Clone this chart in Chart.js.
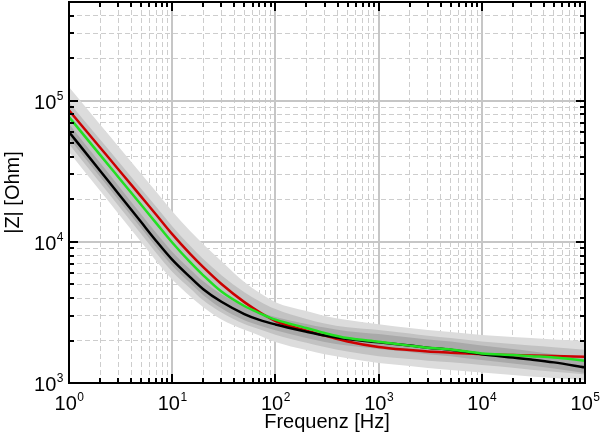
<!DOCTYPE html>
<html>
<head>
<meta charset="utf-8">
<script src="https://cdn.jsdelivr.net/npm/chart.js@4.4.0/dist/chart.umd.min.js"></script>
<style>
  html, body { margin: 0; padding: 0; background: #fff; }
  canvas { display: block; }
</style>
</head>
<body>
<canvas id="chart" width="600" height="441"></canvas>
<script>
// frequency grid (Hz) the values were read at
const freq = [1, 2, 3, 5, 7, 10, 15, 20, 30, 50, 70, 100, 200, 300, 500, 1000, 2000, 3000, 5000, 10000, 20000, 30000, 50000, 100000]

// |Z| curves (Ohm)
const zBlack = [6.0e4, 3.19e4, 2.2e4, 1.38e4, 1.015e4, 7.48e3, 5.6e3, 4.62e3, 3.76e3, 3.08e3, 2.8e3, 2.6e3, 2.31e3, 2.17e3, 2.05e3, 1.94e3, 1.84e3, 1.78e3, 1.72e3, 1.6e3, 1.515e3, 1.467e3, 1.4e3, 1.29e3]
const zGreen = [7.67e4, 4.13e4, 2.88e4, 1.83e4, 1.357e4, 9.9e3, 7.15e3, 5.79e3, 4.44e3, 3.51e3, 3.13e3, 2.81e3, 2.45e3, 2.26e3, 2.08e3, 1.96e3, 1.84e3, 1.78e3, 1.73e3, 1.62e3, 1.58e3, 1.55e3, 1.515e3, 1.44e3]
const zRed = [8.55e4, 4.66e4, 3.27e4, 2.09e4, 1.556e4, 1.134e4, 8.18e3, 6.62e3, 5.03e3, 3.74e3, 3.18e3, 2.75e3, 2.35e3, 2.17e3, 1.97e3, 1.8e3, 1.71e3, 1.67e3, 1.64e3, 1.6e3, 1.58e3, 1.565e3, 1.553e3, 1.535e3]

// spread bands (outer, middle, inner)
const outerHi = [1.25e5, 6.77e4, 4.76e4, 3.04e4, 2.26e4, 1.65e4, 1.19e4, 9.63e3, 7.3e3, 5.2e3, 4.35e3, 3.74e3, 3.23e3, 2.98e3, 2.79e3, 2.61e3, 2.45e3, 2.37e3, 2.3e3, 2.19e3, 2.12e3, 2.08e3, 2.03e3, 1.98e3]
const outerLo = [4.33e4, 2.3e4, 1.59e4, 9.97e3, 7.32e3, 5.4e3, 4.1e3, 3.44e3, 2.82e3, 2.38e3, 2.17e3, 1.95e3, 1.71e3, 1.6e3, 1.5e3, 1.385e3, 1.32e3, 1.277e3, 1.236e3, 1.187e3, 1.139e3, 1.112e3, 1.085e3, 1.05e3]
const midHi = [9.75e4, 5.3e4, 3.73e4, 2.38e4, 1.77e4, 1.29e4, 9.33e3, 7.55e3, 5.81e3, 4.4e3, 3.8e3, 3.34e3, 2.84e3, 2.64e3, 2.48e3, 2.37e3, 2.24e3, 2.16e3, 2.08e3, 1.97e3, 1.89e3, 1.84e3, 1.79e3, 1.72e3]
const midLo = [4.94e4, 2.62e4, 1.81e4, 1.136e4, 8.35e3, 6.15e3, 4.68e3, 3.85e3, 3.16e3, 2.62e3, 2.4e3, 2.2e3, 1.93e3, 1.8e3, 1.67e3, 1.55e3, 1.48e3, 1.44e3, 1.4e3, 1.34e3, 1.28e3, 1.24e3, 1.2e3, 1.15e3]
const innerHi = [6.84e4, 3.63e4, 2.51e4, 1.57e4, 1.156e4, 8.52e3, 6.38e3, 5.25e3, 4.25e3, 3.5e3, 3.17e3, 2.94e3, 2.62e3, 2.47e3, 2.33e3, 2.22e3, 2.1e3, 2.03e3, 1.97e3, 1.84e3, 1.74e3, 1.68e3, 1.6e3, 1.49e3]
const innerLo = [5.45e4, 2.89e4, 1.995e4, 1.253e4, 9.2e3, 6.79e3, 5.08e3, 4.19e3, 3.38e3, 2.78e3, 2.55e3, 2.36e3, 2.08e3, 1.95e3, 1.84e3, 1.74e3, 1.66e3, 1.6e3, 1.55e3, 1.455e3, 1.374e3, 1.33e3, 1.266e3, 1.177e3]

// axes
const xDecades = [1, 10, 100, 1000, 10000, 100000]
const yDecades = [1000, 10000, 100000]
const minorSteps = [2, 3, 4, 5, 6, 7, 8, 9]
const xMin = 1, xMax = 1e5, yMin = 1e3, yMax = 5e5

const FONT = '"Liberation Sans", Arial, Helvetica, sans-serif'

const isDecade = v => Math.abs(Math.log10(v) - Math.round(Math.log10(v))) < 1e-9

function tickValues(decades, min, max) {
  const out = []
  decades.forEach(d => {
    out.push(d)
    minorSteps.forEach(m => { if (d * m <= max) out.push(d * m) })
  })
  return out.filter(v => v >= min && v <= max)
}
const xTicks = tickValues(xDecades, xMin, xMax)
const yTicks = tickValues(yDecades.concat([1e5]), yMin, yMax)

const pts = arr => freq.map((f, i) => ({ x: f, y: arr[i] }))

function band(data, color, fill, order) {
  return {
    data: pts(data),
    borderWidth: 0,
    pointRadius: 0,
    backgroundColor: color,
    fill: fill,
    order: order,
    cubicInterpolationMode: "monotone"
  }
}

function curve(data, color, order) {
  return {
    data: pts(data),
    borderColor: color,
    borderWidth: 2.5,
    pointRadius: 0,
    fill: false,
    order: order,
    cubicInterpolationMode: "monotone"
  }
}

const gridOpts = {
  color: ctx => ctx.tick && isDecade(ctx.tick.value) ? "#c6c6c6" : "#cdcdcd",
  lineWidth: ctx => ctx.tick && isDecade(ctx.tick.value) ? 2 : 1,
  drawTicks: false
}
const borderOpts = {
  display: false,
  dash: ctx => ctx.tick && !isDecade(ctx.tick.value) ? [5, 3] : []
}

function drawPow(ctx, exp, x, y, align) {
  ctx.font = "20px " + FONT
  const w1 = ctx.measureText("10").width
  ctx.font = "12px " + FONT
  const w2 = ctx.measureText(exp).width
  const start = align === "center" ? x - (w1 + w2) / 2 : x - (w1 + w2)
  ctx.font = "20px " + FONT
  ctx.fillText("10", start, y)
  ctx.font = "12px " + FONT
  ctx.fillText(exp, start + w1 + 0.5, y - 9)
}

const frame = {
  id: "frame",
  afterDraw(chart) {
    const { ctx, chartArea: a, scales: { x, y } } = chart
    ctx.save()
    ctx.strokeStyle = "#000"
    ctx.lineWidth = 2
    ctx.beginPath()
    xTicks.forEach(v => {
      const px = Math.round(x.getPixelForValue(v))
      const len = isDecade(v) ? 9 : 5
      ctx.moveTo(px, a.bottom); ctx.lineTo(px, a.bottom - len)
      ctx.moveTo(px, a.top); ctx.lineTo(px, a.top + len)
    })
    yTicks.forEach(v => {
      const py = Math.round(y.getPixelForValue(v))
      const len = isDecade(v) ? 9 : 5
      ctx.moveTo(a.left, py); ctx.lineTo(a.left + len, py)
      ctx.moveTo(a.right, py); ctx.lineTo(a.right - len, py)
    })
    ctx.stroke()
    ctx.strokeRect(a.left, a.top, a.right - a.left, a.bottom - a.top)

    ctx.fillStyle = "#000"
    ctx.textBaseline = "alphabetic"
    ctx.textAlign = "left"
    xDecades.forEach(v => {
      drawPow(ctx, String(Math.round(Math.log10(v))), x.getPixelForValue(v), a.bottom + 27, "center")
    })
    yDecades.forEach(v => {
      drawPow(ctx, String(Math.round(Math.log10(v))), a.left - 6, y.getPixelForValue(v) + 8, "right")
    })

    ctx.font = "20px " + FONT
    ctx.textAlign = "center"
    ctx.fillText("Frequenz [Hz]", (a.left + a.right) / 2, a.bottom + 45)
    ctx.translate(19, (a.top + a.bottom) / 2)
    ctx.rotate(-Math.PI / 2)
    ctx.fillText("|Z| [Ohm]", 0, 0)
    ctx.restore()
  }
}

new Chart(document.getElementById("chart"), {
  type: "line",
  data: {
    datasets: [
      band(outerHi, "#dcdcdc", "+1", 8),
      band(outerLo, "rgba(0,0,0,0)", false, 7),
      band(midHi, "#c2c2c2", "+1", 6),
      band(midLo, "rgba(0,0,0,0)", false, 5),
      band(innerHi, "#a9a9a9", "+1", 4),
      band(innerLo, "rgba(0,0,0,0)", false, 3),
      curve(zRed, "#cc0000", 2),
      curve(zBlack, "#000000", 1),
      curve(zGreen, "#22e022", 0)
    ]
  },
  options: {
    responsive: false,
    animation: false,
    devicePixelRatio: 1,
    layout: { padding: { left: 69, right: 15, top: 2, bottom: 58 } },
    plugins: { legend: { display: false }, tooltip: { enabled: false } },
    scales: {
      x: {
        type: "logarithmic",
        min: xMin,
        max: xMax,
        afterBuildTicks: s => { s.ticks = xTicks.map(v => ({ value: v })) },
        ticks: { display: false },
        grid: gridOpts,
        border: borderOpts
      },
      y: {
        type: "logarithmic",
        min: yMin,
        max: yMax,
        afterBuildTicks: s => { s.ticks = yTicks.map(v => ({ value: v })) },
        ticks: { display: false },
        grid: gridOpts,
        border: borderOpts
      }
    }
  },
  plugins: [frame]
})
</script>
</body>
</html>
